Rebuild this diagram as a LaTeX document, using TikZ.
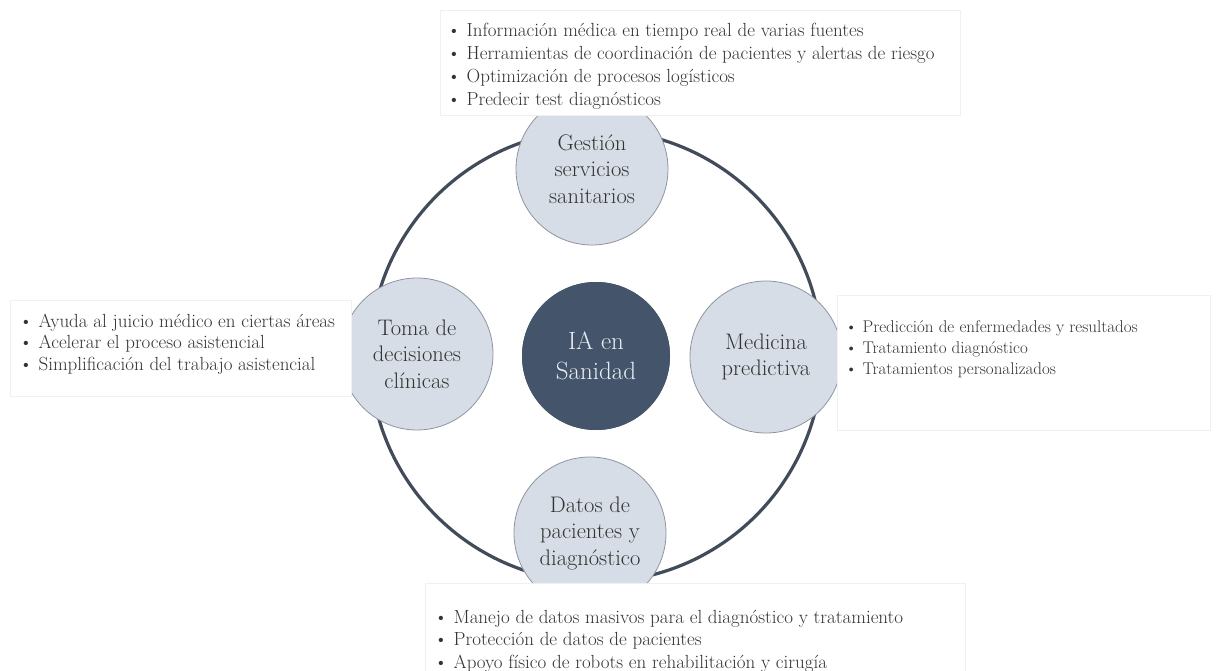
\documentclass[tikz,border=0pt]{standalone}
\usepackage{tikz}
\usetikzlibrary{calc}
\definecolor{Ring}{HTML}{414B5A}
\definecolor{Hub}{HTML}{44546A}
\definecolor{HubText}{HTML}{E9EDF3}
\definecolor{Petal}{HTML}{D7DDE6}
\definecolor{PetalLine}{HTML}{8E959F}
\definecolor{Ink}{HTML}{333333}
\definecolor{Frame}{HTML}{F0F0F0}
\tikzset{
  ring/.style={draw=Ring,line width=3.2pt},
  hub/.style={circle,fill=Hub,minimum size=148pt,inner sep=0pt,align=center,text=HubText,font=\fontsize{25}{30}\selectfont},
  petal/.style={circle,draw=PetalLine,fill=Petal,line width=.8pt,minimum size=152pt,inner sep=0pt,align=center,text=Ink,font=\fontsize{22.5}{26.5}\selectfont},
  panel/.style={draw=Frame,fill=white,line width=.8pt,inner sep=0pt},
  items/.style={align=left,text=Ink,inner sep=0pt,anchor=north west,font=\fontsize{19}{21.5}\selectfont}
}

\begin{document}
\begin{tikzpicture}[x=1pt,y=-1pt]
  \useasboundingbox[fill=white] (0,0) rectangle (1216,671);

  \node[hub] (hub) at (596,356) {IA en\\Sanidad};
  \draw[ring] (hub.center) circle[radius=226pt];

  \node[petal] (gestion) at (592,169) {Gestión\\servicios\\sanitarios};
  \node[petal] (toma) at (417,354) {Toma de\\decisiones\\clínicas};
  \node[petal] (medicina) at (766,357) {Medicina\\predictiva};
  \node[petal] (datos) at (590,533) {Datos de\\pacientes y\\diagnóstico};
  \node[hub] at (hub) {IA en\\Sanidad};

  % listas
  \node[panel,minimum width=520pt,minimum height=105pt] (topbox) at (700,62.5) {};
  \node[items,font=\fontsize{19}{23}\selectfont] (toplist) at (447,22.5) {\textbullet\ Información médica en tiempo real de varias fuentes\\
    \textbullet\ Herramientas de coordinación de pacientes y alertas de riesgo\\
    \textbullet\ Optimización de procesos logísticos\\
    \textbullet\ Predecir test diagnósticos};

  \node[panel,minimum width=341pt,minimum height=96pt] (leftbox) at (180.5,348) {};
  \node[items] (leftlist) at (19,313.5) {\textbullet\ Ayuda al juicio médico en ciertas áreas\\
    \textbullet\ Acelerar el proceso asistencial\\
    \textbullet\ Simplificación del trabajo asistencial};

  \node[panel,minimum width=373pt,minimum height=135pt] (rightbox) at (1023.5,362.5) {};
  \node[items,font=\fontsize{17}{21}\selectfont] (rightlist) at (845,320) {\textbullet\ Predicción de enfermedades y resultados\\
    \textbullet\ Tratamiento diagnóstico\\
    \textbullet\ Tratamientos personalizados};

  \node[panel,minimum width=540pt,minimum height=92pt] (bottombox) at (695,629) {};
  \node[items,font=\fontsize{19}{22.5}\selectfont] (bottomlist) at (434,610) {\textbullet\ Manejo de datos masivos para el diagnóstico y tratamiento\\
    \textbullet\ Protección de datos de pacientes\\
    \textbullet\ Apoyo físico de robots en rehabilitación y cirugía};
\end{tikzpicture}
\end{document}
